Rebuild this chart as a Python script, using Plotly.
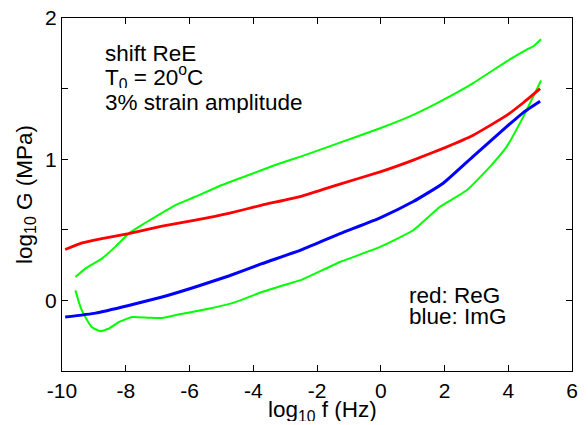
import plotly.graph_objects as go

# Storage modulus ReG (red)
re_x = [-9.90, -9.37, -8.75, -7.91, -6.86, -5.82, -4.77, -3.73, -2.47, -1.28, -0.02, 0.98, 1.96, 2.90, 3.95, 4.47, 5.0]
re_y = [0.360, 0.407, 0.438, 0.473, 0.526, 0.568, 0.616, 0.675, 0.739, 0.824, 0.910, 0.99, 1.077, 1.17, 1.31, 1.40, 1.50]

# Loss modulus ImG (blue)
im_x = [-9.90, -8.95, -7.91, -6.86, -5.82, -4.77, -3.73, -2.47, -1.28, -0.02, 1.02, 1.96, 2.90, 3.95, 4.47, 5.0]
im_y = [-0.118, -0.090, -0.036, 0.024, 0.095, 0.173, 0.26, 0.36, 0.473, 0.585, 0.70, 0.83, 1.02, 1.23, 1.33, 1.41]

# Upper green curve
gu_x = [-9.58, -9.27, -8.75, -8.33, -7.91, -7.59, -7.07, -6.44, -5.82, -4.98, -4.14, -3.31, -2.47, -1.28, -0.02, 1.02, 1.96, 2.90, 3.95, 4.58, 4.79, 5.03]
gu_y = [0.165, 0.225, 0.296, 0.379, 0.473, 0.521, 0.592, 0.675, 0.734, 0.817, 0.888, 0.959, 1.022, 1.117, 1.219, 1.314, 1.42, 1.539, 1.693, 1.776, 1.80, 1.85]

# Lower green curve
gl_x = [-9.58, -9.42, -9.27, -9.06, -8.80, -8.54, -8.22, -7.80, -7.28, -6.86, -6.24, -5.40, -4.56, -3.73, -2.89, -2.47, -1.28, -0.02, 1.02, 1.86, 2.70, 3.43, 3.95, 4.47, 5.03]
gl_y = [0.071, -0.047, -0.118, -0.19, -0.218, -0.201, -0.154, -0.118, -0.123, -0.125, -0.095, -0.059, -0.012, 0.059, 0.118, 0.147, 0.272, 0.379, 0.497, 0.663, 0.78, 0.947, 1.089, 1.30, 1.557]

x_ticks = [-10, -8, -6, -4, -2, 0, 2, 4, 6]
x_tick_text = ["-10", "-8", "-6", "-4", "-2", "0", "2", "4", "6"]
y_ticks = [0, 1, 2]
y_tick_text = ["0", "1", "2"]
y_minor_ticks = [-0.5, 0.5, 1.5]

FONT = "Liberation Sans, Arial, sans-serif"

fig = go.Figure()
fig.add_trace(go.Scatter(x=gu_x, y=gu_y, mode="lines",
                         line=dict(color="#00ff00", width=2, shape="spline", smoothing=0.4)))
fig.add_trace(go.Scatter(x=gl_x, y=gl_y, mode="lines",
                         line=dict(color="#00ff00", width=2, shape="spline", smoothing=0.4)))
fig.add_trace(go.Scatter(x=re_x, y=re_y, mode="lines",
                         line=dict(color="#ff0000", width=2.8, shape="spline", smoothing=0.4)))
fig.add_trace(go.Scatter(x=im_x, y=im_y, mode="lines",
                         line=dict(color="#0000ff", width=3, shape="spline", smoothing=0.4)))

W, H = 588, 425
L, R, T, B = 62, 16, 18, 54
pw, ph = W - L - R, H - T - B


def px(xp):
    return (xp - L) / pw


def py(yp):
    return (H - B - yp) / ph


notes = [
    (103, 53, "shift ReE"),
    (103, 77, "T<sub>0</sub> = 20<sup>o</sup>C"),
    (103, 102, "3% strain amplitude"),
    (407, 295, "red: ReG"),
    (407, 316, "blue: ImG"),
]
for xp, yp, txt in notes:
    fig.add_annotation(x=px(xp), y=py(yp), xref="paper", yref="paper",
                       text=txt, showarrow=False, xanchor="left", yanchor="middle",
                       height=22, valign="middle",
                       font=dict(family=FONT, size=22.5, color="black"))

# x-axis title
fig.add_annotation(x=px(322), y=py(411), xref="paper", yref="paper",
                   text="log<sub>10</sub> f (Hz)", showarrow=False,
                   xanchor="center", yanchor="middle", height=20, valign="middle",
                   font=dict(family=FONT, size=22.5, color="black"))

axis_common = dict(showline=True, linecolor="black", linewidth=1, mirror="ticks",
                   ticks="inside", ticklen=6, tickcolor="black", tickwidth=1,
                   showgrid=False, zeroline=False, automargin=False,
                   tickfont=dict(family=FONT, size=21, color="black"))

fig.update_xaxes(range=[-10, 6], tickvals=x_ticks, ticktext=x_tick_text,
                 ticklabelstandoff=1, **axis_common)
fig.update_yaxes(range=[-0.5, 2], tickvals=y_ticks, ticktext=y_tick_text,
                 minor=dict(tickvals=y_minor_ticks, ticks="inside", ticklen=6,
                            tickcolor="black", tickwidth=1, showgrid=False),
                 title=dict(text="log<sub>10</sub> G (MPa)", font=dict(family=FONT, size=22.5, color="black"), standoff=6),
                 **axis_common)

fig.update_layout(width=W, height=H, margin=dict(l=L, r=R, t=T, b=B),
                  plot_bgcolor="white", paper_bgcolor="white", showlegend=False)

fig.write_html("out.html")
